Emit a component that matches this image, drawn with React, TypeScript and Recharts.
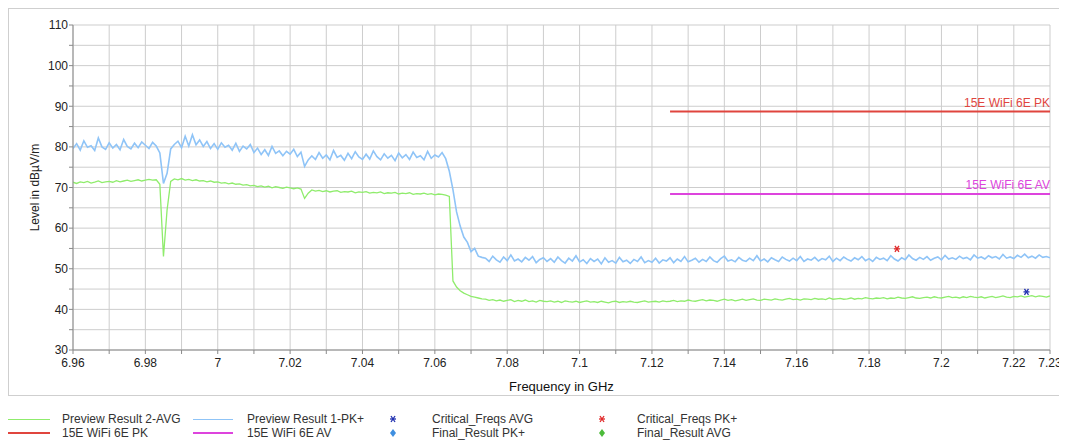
import React from "react";
import { ComposedChart, Line, Scatter, XAxis, YAxis, CartesianGrid } from "recharts";

// sweep grid: 6.960 .. 7.230 GHz in 1 MHz steps
const freqStart = 6.96;
const freqStep = 0.001;

// Preview Result 1-PK+ (dBµV/m)
const pkTrace = [
  79.6, 80.8, 79.2, 81.5, 79.9, 80.3, 79.1, 82.2, 80.0, 79.4,
  81.0, 79.7, 80.6, 79.3, 81.8, 80.1, 79.5, 80.9, 79.8, 81.2,
  80.4, 79.6, 81.1, 80.2,
  78.5, 71.0, 73.5, 79.5,
  80.6, 81.4, 79.8, 82.6, 80.2, 83.0, 80.5, 81.7,
  80.1, 81.3, 79.6, 80.8, 79.4, 81.0, 79.9, 80.4, 79.2, 80.9, 78.9, 80.2, 79.5, 80.6,
  78.6, 79.7, 78.1, 79.3, 77.9, 80.1, 78.4, 79.0, 77.8, 78.9, 78.2, 79.4, 77.6, 78.7,
  75.2, 76.8,
  77.8, 76.9, 78.6, 77.2, 78.0, 76.8, 79.1, 77.4, 77.9, 76.7,
  78.4, 77.1, 78.8, 77.5, 76.9, 78.2, 77.0, 79.0, 77.6, 76.8,
  78.3, 77.2, 77.9, 76.6, 78.5, 77.3, 78.1, 76.9, 78.7, 77.4,
  77.8, 76.8, 78.9, 77.2, 78.0, 77.5, 78.6, 77.1,
  74.0, 69.5, 64.0, 60.5, 57.8, 56.5, 54.2, 55.0, 53.1, 52.8,
  52.6, 51.8, 53.1, 52.2, 51.6, 52.9, 52.0, 53.4, 51.9, 52.4,
  51.7, 52.8, 52.1, 53.0, 51.5, 52.3, 52.7, 51.8, 52.5, 51.6,
  52.9, 52.0, 51.4, 52.6, 51.9, 53.2, 51.7, 52.2, 51.3, 52.5,
  51.8, 52.4, 51.2, 52.7, 51.6, 52.0, 51.4, 52.8, 51.7, 52.1,
  51.3, 52.3, 51.8, 52.9, 51.5, 52.0, 51.6, 52.6, 51.4, 52.2,
  51.9, 52.7, 51.5, 52.4, 51.8, 53.0, 51.7, 52.1, 52.6, 51.6,
  52.3, 51.8, 52.9, 52.0, 51.6, 52.5, 53.1, 51.9, 52.2, 51.7,
  52.8, 52.1, 51.8, 52.6, 52.0, 53.2, 51.9, 52.4, 51.7, 52.7,
  52.2, 51.8, 52.9, 52.3, 51.9, 52.6, 52.0, 53.0, 51.8, 52.4,
  52.1, 52.8, 51.9, 52.5, 52.2, 53.1, 51.8, 52.6, 52.0, 52.9,
  52.3, 51.9, 52.7, 52.2, 53.0, 52.0, 52.5, 51.8, 52.8, 52.3,
  52.6, 52.0, 53.2, 52.4, 51.9, 52.7, 52.2, 53.4, 52.5, 52.1,
  52.8, 52.3, 53.0, 52.1, 52.6, 52.9, 52.2, 53.3, 52.4, 52.7,
  52.3, 53.1, 52.5, 52.8, 52.2, 53.4, 52.6, 52.9, 52.4, 53.2,
  52.7, 53.0, 52.4, 53.5, 52.6, 52.9, 52.5, 53.3, 52.8, 53.6,
  52.7, 53.1, 52.6, 53.4, 52.8, 53.0, 52.7,
];

// Preview Result 2-AVG (dBµV/m)
const avgTrace = [
  71.3, 71.0, 71.4, 71.2, 71.5, 71.1, 71.3, 71.6, 71.2, 71.4,
  71.5, 71.3, 71.7, 71.4, 71.6, 71.8, 71.5, 71.7, 71.9, 71.6,
  71.8, 72.0, 71.8, 71.9,
  70.8, 53.0, 64.5, 71.5,
  72.1, 71.9, 72.2, 71.8, 72.0, 71.7, 71.9, 71.6, 71.7, 71.4,
  71.6, 71.3, 71.4, 71.1, 71.2, 70.9, 71.1, 70.8, 70.9, 70.6,
  70.7, 70.4,
  70.5, 70.2, 70.4, 70.1, 70.3, 69.9, 70.2, 70.0, 69.8, 70.1, 69.9, 69.7, 69.9, 69.6,
  67.3, 68.6,
  69.4, 69.1, 69.3, 69.0, 69.2, 68.9, 69.1, 69.2, 68.8, 69.0,
  68.9, 69.1, 68.7, 68.9, 68.8, 69.0, 68.6, 68.8, 68.7, 68.9,
  68.5, 68.7, 68.6, 68.8, 68.4, 68.6, 68.5, 68.7, 68.3, 68.5,
  68.4, 68.6, 68.3, 68.5, 68.2, 68.4, 68.3, 68.1,
  67.8, 47.0, 45.5, 44.6, 44.0, 43.6, 43.2, 43.0, 42.8, 42.6,
  42.5, 42.2, 42.4, 42.1, 42.3, 42.0, 42.2, 42.4, 41.9, 42.2,
  42.0, 42.3, 41.9, 42.1, 41.8, 42.2, 42.0, 41.9, 42.1, 41.8,
  42.0, 41.7, 42.1, 41.9, 41.8, 42.0, 41.7, 41.9, 42.1, 41.8,
  41.9, 41.7, 42.0, 41.8, 41.6, 41.9, 42.0, 41.7, 41.9, 41.8,
  42.0, 41.8, 41.7, 41.9, 42.1, 41.8, 41.9, 42.0, 41.8, 42.1,
  41.9, 42.0, 42.2, 41.9, 42.1, 42.0, 42.3, 42.1, 42.0, 42.2,
  42.4, 42.1, 42.3, 42.2, 42.0, 42.3, 42.5, 42.2, 42.4, 42.1,
  42.3, 42.5, 42.2, 42.4, 42.6, 42.3, 42.2, 42.5, 42.4, 42.3,
  42.6, 42.4, 42.3, 42.5, 42.7, 42.4, 42.5, 42.3, 42.6, 42.5,
  42.4, 42.7, 42.5, 42.6, 42.4, 42.8, 42.5, 42.6, 42.7, 42.5,
  42.6, 42.8, 42.5, 42.7, 42.6, 42.9, 42.7, 42.6, 42.8, 42.7,
  42.9, 42.6, 42.8, 42.7, 43.0, 42.8, 42.7, 42.9, 43.1, 42.8,
  42.7, 42.9, 43.0, 42.8, 43.1, 42.9, 42.8, 43.0, 43.2, 42.9,
  43.0, 42.8, 43.1, 42.9, 43.2, 43.0, 42.9, 43.1, 42.8, 43.0,
  43.2, 42.9, 43.1, 43.3, 43.0, 42.9, 43.2, 43.1, 43.3, 43.0,
  43.2, 43.4, 43.1, 43.3, 43.2, 43.0, 43.3,
];

// limit lines
const limitFreqs = [7.125, 7.23];
const pkLimitLevel = 88.7;
const avLimitLevel = 68.4;

// critical frequencies
const critPkFreqs = [7.1877];
const critPkLevels = [54.9];
const critAvgFreqs = [7.2235];
const critAvgLevels = [44.3];

const xTicks = [
  6.96, 6.97, 6.98, 6.99, 7.0, 7.01, 7.02, 7.03, 7.04, 7.05, 7.06, 7.07, 7.08, 7.09,
  7.1, 7.11, 7.12, 7.13, 7.14, 7.15, 7.16, 7.17, 7.18, 7.19, 7.2, 7.21, 7.22, 7.23,
];
const xTickLabels = [
  "6.96", "", "6.98", "", "7", "", "7.02", "", "7.04", "", "7.06", "", "7.08", "",
  "7.1", "", "7.12", "", "7.14", "", "7.16", "", "7.18", "", "7.2", "", "7.22", "7.23",
];
const yTicks = [30, 35, 40, 45, 50, 55, 60, 65, 70, 75, 80, 85, 90, 95, 100, 105, 110];
const yTickLabels = ["30", "", "40", "", "50", "", "60", "", "70", "", "80", "", "90", "", "100", "", "110"];

const FONT = "'Liberation Sans', Arial, sans-serif";
const C_PK = "#8fc4f7";
const C_AVG = "#8fec6c";
const C_PKLIM = "#e0453e";
const C_AVLIM = "#dd44dd";
const C_CRIT_AVG = "#2030b0";
const C_CRIT_PK = "#e02828";
const C_FIN_PK = "#3f8fe0";
const C_FIN_AVG = "#4cbb3a";

const traceData = pkTrace.map((v, i) => ({
  f: +(freqStart + i * freqStep).toFixed(3),
  pk: v,
  avg: avgTrace[i],
}));
const pkLimitData = limitFreqs.map((f) => ({ f, v: pkLimitLevel }));
const avLimitData = limitFreqs.map((f) => ({ f, v: avLimitLevel }));
const critPkData = critPkFreqs.map((f, i) => ({ f, v: critPkLevels[i] }));
const critAvgData = critAvgFreqs.map((f, i) => ({ f, v: critAvgLevels[i] }));

const Asterisk = ({ cx, cy, color }: any) => (
  <g stroke={color} strokeWidth={1.3}>
    <line x1={cx - 3} y1={cy} x2={cx + 3} y2={cy} />
    <line x1={cx - 2} y1={cy - 3} x2={cx + 2} y2={cy + 3} />
    <line x1={cx + 2} y1={cy - 3} x2={cx - 2} y2={cy + 3} />
  </g>
);

const limitLabel = (text: string, color: string) => (p: any) =>
  p.index === 1 ? (
    <text x={p.x} y={p.y - 5} textAnchor="end" fill={color} fontSize={12} fontFamily={FONT}>
      {text}
    </text>
  ) : (
    <g />
  );

const legendText: React.CSSProperties = {
  position: "absolute",
  fontSize: 12,
  color: "#333",
  lineHeight: "14px",
  whiteSpace: "nowrap",
};

const LegendLine = ({ x, y, w, color, t }: any) => (
  <div style={{ position: "absolute", left: x, top: y, width: w, height: t, background: color }} />
);

const Marker = ({ x, y, kind, color }: any) => (
  <svg style={{ position: "absolute", left: x - 5, top: y - 5 }} width={10} height={10}>
    {kind === "star" ? (
      <Asterisk cx={5} cy={5} color={color} />
    ) : (
      <polygon points="5,1 8,5 5,9 2,5" fill={color} />
    )}
  </svg>
);

export default function App() {
  return (
    <div style={{ position: "relative", width: 1059, height: 437, fontFamily: FONT }}>
      <div
        style={{
          position: "absolute",
          left: 0,
          top: 0,
          width: 1052,
          height: 386,
          borderTop: "1px solid #cfcfcf",
          borderLeft: "1px solid #cfcfcf",
          borderBottom: "1px solid #cfcfcf",
        }}
      >
        <ComposedChart
          width={1058}
          height={385}
          margin={{ top: 16, right: 17, left: 0, bottom: 0 }}
          data={traceData}
        >
          <CartesianGrid stroke="#cdcdcd" strokeWidth={1} />
          <XAxis
            dataKey="f"
            type="number"
            domain={[6.96, 7.23]}
            ticks={xTicks}
            interval={0}
            allowDataOverflow
            height={44}
            tickSize={4}
            tickMargin={4}
            stroke="#8a8a8a"
            tick={{ fill: "#222", fontSize: 12, fontFamily: FONT }}
            tickFormatter={(v: number) => xTickLabels[xTicks.findIndex((t) => Math.abs(t - v) < 1e-6)] ?? ""}
            label={{ value: "Frequency in GHz", position: "insideBottom", offset: 3, fill: "#111", fontSize: 13, fontFamily: FONT }}
          />
          <YAxis
            type="number"
            domain={[30, 110]}
            ticks={yTicks}
            interval={0}
            width={64}
            tickSize={4}
            tickMargin={1}
            stroke="#8a8a8a"
            tick={{ fill: "#222", fontSize: 12, fontFamily: FONT }}
            tickFormatter={(v: number) => yTickLabels[yTicks.indexOf(v)] ?? ""}
            label={{
              value: "Level in dBµV/m",
              angle: -90,
              position: "insideLeft",
              offset: 26,
              fill: "#222",
              fontSize: 12,
              fontFamily: FONT,
              style: { textAnchor: "middle" },
            }}
          />
          <Line dataKey="avg" type="linear" stroke={C_AVG} strokeWidth={1.3} dot={false} isAnimationActive={false} />
          <Line dataKey="pk" type="linear" stroke={C_PK} strokeWidth={1.6} dot={false} isAnimationActive={false} />
          <Line
            data={pkLimitData}
            dataKey="v"
            type="linear"
            stroke={C_PKLIM}
            strokeWidth={2}
            dot={false}
            isAnimationActive={false}
            label={limitLabel("15E WiFi 6E PK", C_PKLIM)}
          />
          <Line
            data={avLimitData}
            dataKey="v"
            type="linear"
            stroke={C_AVLIM}
            strokeWidth={2}
            dot={false}
            isAnimationActive={false}
            label={limitLabel("15E WiFi 6E AV", C_AVLIM)}
          />
          <Scatter data={critPkData} dataKey="v" isAnimationActive={false} shape={(p: any) => <Asterisk cx={p.cx} cy={p.cy} color={C_CRIT_PK} />} />
          <Scatter data={critAvgData} dataKey="v" isAnimationActive={false} shape={(p: any) => <Asterisk cx={p.cx} cy={p.cy} color={C_CRIT_AVG} />} />
        </ComposedChart>
      </div>

      {/* legend */}
      <LegendLine x={0} y={411} w={42} t={1} color={C_AVG} />
      <div style={{ ...legendText, left: 54, top: 404 }}>Preview Result 2-AVG</div>
      <LegendLine x={0} y={424} w={42} t={2} color={C_PKLIM} />
      <div style={{ ...legendText, left: 54, top: 418 }}>15E WiFi 6E PK</div>

      <LegendLine x={185} y={411} w={40} t={1} color={C_PK} />
      <div style={{ ...legendText, left: 239, top: 404 }}>Preview Result 1-PK+</div>
      <LegendLine x={185} y={424} w={40} t={2} color={C_AVLIM} />
      <div style={{ ...legendText, left: 239, top: 418 }}>15E WiFi 6E AV</div>

      <Marker x={385} y={411} kind="star" color={C_CRIT_AVG} />
      <div style={{ ...legendText, left: 424, top: 404 }}>Critical_Freqs AVG</div>
      <Marker x={385} y={425} kind="diamond" color={C_FIN_PK} />
      <div style={{ ...legendText, left: 424, top: 418 }}>Final_Result PK+</div>

      <Marker x={594} y={411} kind="star" color={C_CRIT_PK} />
      <div style={{ ...legendText, left: 629, top: 404 }}>Critical_Freqs PK+</div>
      <Marker x={594} y={425} kind="diamond" color={C_FIN_AVG} />
      <div style={{ ...legendText, left: 629, top: 418 }}>Final_Result AVG</div>
    </div>
  );
}
